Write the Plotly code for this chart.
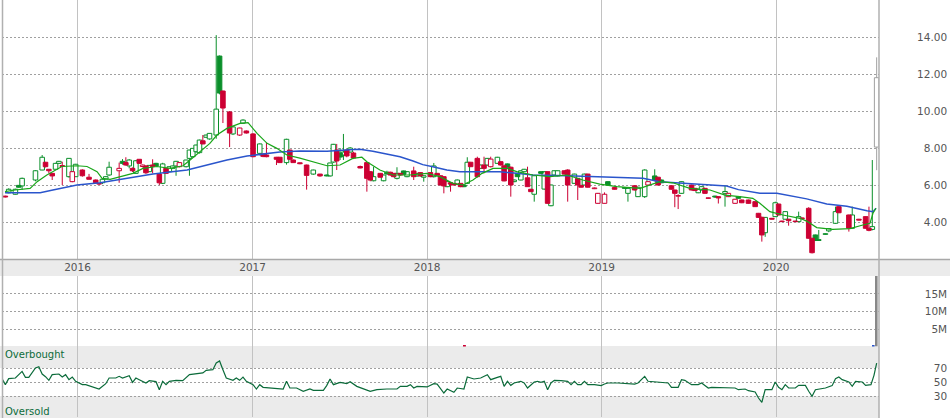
import numpy as np
import pandas as pd
import plotly.graph_objects as go

# ---------------- data ----------------
START = "2015-07-27"          # week 0
END = "2020-08-03"

candle_week = [1, 2, 4, 5, 6, 10, 12, 13, 14, 15, 16, 17, 18, 20, 21, 22, 24, 26, 28, 29,
               30, 31, 32, 35, 36, 37, 38, 39, 40, 41, 42, 43, 44, 45, 46, 47, 48, 49, 50, 51,
               52, 53, 55, 56, 57, 58, 59, 60, 61, 62, 64, 65, 66, 68, 69, 71, 72, 73, 75, 77,
               78, 79, 82, 83, 85, 86, 87, 89, 91, 93, 95, 97, 98, 99, 100, 101, 102, 103, 104, 105,
               107, 109, 110, 111, 113, 114, 115, 116, 117, 118, 119, 120, 121, 123, 124, 125, 126, 128, 129, 130,
               131, 132, 133, 134, 135, 136, 137, 138, 139, 140, 142, 143, 144, 145, 146, 148, 149, 150, 151, 152,
               153, 154, 155, 156, 157, 158, 159, 161, 162, 163, 164, 165, 166, 168, 169, 171, 172, 173, 174, 175,
               177, 178, 180, 181, 183, 186, 187, 189, 190, 192, 193, 195, 196, 197, 200, 201, 202, 203, 206, 207,
               208, 209, 210, 211, 213, 214, 216, 217, 219, 220, 221, 223, 225, 226, 227, 228, 230, 231, 232, 233,
               234, 235, 237, 238, 239, 241, 242, 243, 244, 246, 247, 249, 250, 253, 254, 256, 258, 259, 260]
candle_open = [5.40, 5.58, 5.50, 5.98, 5.95, 6.27, 6.81, 7.23, 6.85, 6.63, 6.85, 7.17, 7.05, 6.45, 6.18, 6.45, 6.81, 6.42, 6.27, 6.08,
               6.12, 6.32, 6.54, 6.77, 7.28, 7.21, 7.03, 6.90, 6.63, 7.39, 7.00, 7.03, 6.72, 7.08, 7.17, 6.59, 6.09, 6.90, 6.72, 6.90,
               7.03, 6.99, 6.99, 7.44, 7.53, 7.80, 7.75, 8.39, 8.58, 8.49, 8.70, 12.97, 11.08, 9.95, 8.76, 8.70, 9.34, 8.92, 8.76, 7.71,
               7.68, 7.62, 7.50, 7.50, 7.21, 7.89, 7.35, 7.20, 7.08, 6.59, 6.59, 6.54, 6.49, 7.24, 7.89, 7.73, 7.62, 7.89, 7.78, 7.73,
               7.00, 7.21, 6.72, 6.23, 6.63, 6.23, 6.69, 6.69, 6.63, 6.36, 6.63, 6.76, 6.45, 6.76, 6.49, 6.67, 6.42, 6.67, 6.45, 6.63,
               6.50, 6.45, 5.91, 6.12, 6.09, 6.05, 6.09, 6.00, 6.09, 7.23, 7.44, 6.90, 7.08, 7.08, 6.99, 7.17, 7.26, 7.04, 7.14, 6.96,
               6.18, 6.63, 6.27, 6.72, 6.39, 5.77, 5.50, 6.72, 5.78, 6.72, 4.88, 6.54, 6.49, 6.77, 6.81, 6.09, 6.36, 5.98, 6.00, 6.59,
               5.80, 5.01, 5.01, 6.18, 5.86, 5.86, 5.55, 5.96, 5.37, 5.37, 6.00, 6.49, 6.42, 6.27, 5.96, 5.73, 5.42, 5.55, 6.00, 5.82,
               5.58, 5.73, 5.82, 5.30, 5.40, 5.37, 5.55, 5.37, 5.01, 5.37, 5.19, 5.19, 5.10, 4.47, 4.25, 3.42, 4.20, 4.29, 4.97, 4.05,
               4.15, 4.15, 4.05, 4.02, 4.22, 4.74, 3.12, 3.30, 3.00, 3.33, 3.52, 3.93, 4.83, 4.38, 3.66, 4.15, 4.29, 3.66, 3.60]
candle_high = [5.42, 5.82, 5.80, 6.00, 6.40, 6.80, 7.62, 7.25, 6.85, 6.65, 7.20, 7.30, 7.26, 7.45, 6.75, 7.14, 6.85, 6.60, 6.30, 6.10,
               6.35, 6.48, 7.26, 7.21, 7.40, 7.50, 7.40, 6.95, 7.35, 7.40, 7.10, 7.05, 7.08, 7.39, 7.20, 6.60, 7.20, 6.92, 7.00, 7.05,
               7.30, 7.22, 7.36, 7.90, 7.98, 8.18, 8.45, 8.70, 8.72, 8.80, 14.10, 13.00, 11.10, 10.00, 9.20, 9.10, 9.55, 8.95, 8.80, 8.25,
               7.70, 8.29, 7.52, 7.52, 8.50, 7.90, 7.38, 7.22, 7.10, 6.83, 6.60, 6.56, 7.20, 8.22, 8.22, 8.00, 8.76, 7.92, 8.05, 7.80,
               7.05, 7.22, 6.75, 6.99, 6.65, 6.56, 6.77, 6.72, 6.65, 6.96, 6.65, 6.78, 6.75, 6.99, 6.65, 6.70, 6.52, 6.70, 7.19, 6.65,
               6.52, 6.47, 6.20, 6.15, 6.10, 6.30, 6.10, 6.02, 7.50, 7.25, 7.53, 7.10, 7.53, 7.46, 7.53, 7.52, 7.30, 7.06, 7.16, 7.00,
               6.30, 6.65, 6.79, 6.87, 6.99, 5.79, 6.50, 6.74, 6.74, 6.74, 6.02, 6.79, 6.79, 6.80, 6.85, 6.61, 6.38, 6.00, 6.61, 6.61,
               5.86, 5.57, 5.60, 6.20, 5.88, 5.88, 5.85, 5.98, 5.90, 6.85, 6.20, 6.85, 6.44, 6.29, 5.98, 5.75, 5.50, 6.20, 6.02, 5.84,
               5.79, 5.93, 5.84, 5.32, 5.42, 5.40, 6.00, 5.57, 5.25, 5.39, 5.21, 5.21, 5.12, 4.49, 4.30, 4.27, 4.22, 5.10, 4.99, 4.07,
               4.58, 4.17, 4.07, 4.56, 4.24, 4.80, 3.14, 3.32, 3.57, 3.39, 3.66, 4.83, 4.85, 4.40, 4.83, 4.17, 4.31, 4.83, 7.35]
candle_low = [5.33, 5.55, 5.48, 5.85, 5.73, 6.20, 6.80, 6.95, 6.63, 6.27, 6.85, 7.15, 6.00, 6.40, 6.15, 6.45, 6.45, 6.30, 6.10, 6.00,
              6.05, 6.30, 6.50, 6.12, 7.10, 7.05, 6.90, 6.70, 6.60, 7.15, 6.95, 6.60, 6.70, 6.63, 7.00, 6.00, 6.05, 6.60, 6.70, 6.88,
              6.50, 6.95, 6.95, 6.50, 7.50, 7.75, 7.70, 8.20, 8.55, 8.45, 8.50, 10.90, 9.35, 8.05, 8.70, 8.65, 9.30, 8.78, 7.50, 7.60,
              7.50, 7.50, 7.08, 7.20, 7.10, 7.35, 7.20, 7.12, 5.75, 6.55, 6.45, 6.47, 6.45, 7.20, 6.81, 7.35, 7.35, 7.50, 7.75, 7.40,
              6.90, 5.64, 6.20, 6.20, 6.40, 6.20, 6.55, 6.50, 6.42, 6.30, 6.50, 6.55, 6.42, 6.27, 6.45, 6.45, 6.18, 6.42, 6.40, 6.50,
              5.98, 5.55, 5.88, 5.64, 5.98, 6.02, 5.88, 5.88, 6.05, 6.97, 6.40, 6.88, 6.63, 7.05, 6.95, 7.15, 7.05, 6.20, 6.94, 5.37,
              6.15, 6.43, 6.25, 6.70, 5.90, 5.62, 5.10, 6.60, 5.75, 5.00, 4.85, 6.52, 6.47, 6.57, 5.10, 6.07, 5.19, 5.86, 5.98, 5.86,
              5.78, 4.99, 5.00, 5.98, 5.75, 5.80, 5.10, 5.71, 5.35, 5.30, 5.98, 6.20, 5.98, 6.10, 5.75, 4.80, 4.70, 5.53, 5.71, 5.68,
              5.56, 5.71, 5.53, 5.26, 5.30, 5.00, 4.83, 5.35, 4.99, 5.26, 5.02, 4.99, 4.81, 4.23, 2.94, 3.20, 4.13, 4.27, 4.36, 4.00,
              4.13, 3.80, 4.00, 4.00, 4.16, 3.10, 2.30, 2.97, 2.98, 3.31, 3.45, 3.90, 4.48, 3.48, 3.64, 4.08, 3.64, 3.50, 3.55]
candle_close = [5.35, 5.77, 5.77, 5.88, 6.36, 6.77, 7.50, 6.99, 6.77, 6.49, 7.17, 7.28, 7.00, 7.44, 6.72, 7.12, 6.50, 6.31, 6.12, 6.05,
                6.31, 6.45, 6.96, 6.90, 7.17, 7.08, 7.35, 6.77, 7.31, 7.17, 7.08, 6.66, 7.06, 7.00, 7.03, 6.12, 7.14, 6.63, 6.99, 7.03,
                7.28, 7.21, 7.35, 7.89, 7.98, 8.16, 8.43, 8.22, 8.70, 8.79, 10.10, 10.97, 10.16, 8.81, 9.14, 9.08, 9.51, 8.81, 7.53, 8.22,
                7.55, 7.53, 7.39, 7.21, 8.47, 7.39, 7.21, 7.15, 6.52, 6.81, 6.49, 6.49, 7.19, 8.20, 7.30, 7.51, 7.78, 7.57, 8.00, 7.46,
                6.92, 6.36, 6.27, 6.45, 6.42, 6.54, 6.60, 6.54, 6.45, 6.63, 6.54, 6.58, 6.72, 6.45, 6.63, 6.49, 6.50, 6.45, 7.03, 6.54,
                6.00, 5.95, 6.18, 6.05, 6.00, 6.27, 5.91, 5.91, 7.23, 6.99, 6.45, 7.08, 6.90, 7.44, 7.40, 7.50, 7.08, 6.22, 6.96, 6.00,
                6.27, 6.45, 6.77, 6.85, 5.91, 5.64, 6.50, 6.63, 6.72, 5.01, 6.00, 6.77, 6.77, 6.59, 6.00, 6.59, 6.00, 5.88, 6.59, 5.88,
                5.84, 5.55, 5.50, 6.00, 5.77, 5.82, 5.82, 5.73, 5.88, 6.81, 6.18, 6.27, 6.00, 6.12, 5.77, 5.55, 5.40, 6.18, 5.73, 5.70,
                5.77, 5.91, 5.55, 5.28, 5.35, 5.30, 5.65, 5.55, 5.23, 5.28, 5.04, 5.01, 4.83, 4.25, 3.30, 4.25, 4.15, 5.04, 4.38, 4.02,
                4.56, 4.07, 4.02, 4.29, 4.18, 3.12, 2.34, 3.00, 3.05, 3.37, 3.64, 4.56, 4.50, 3.66, 4.38, 4.10, 3.66, 3.55, 3.75]

# latest (unfinished) bar, drawn in grey
last_week = [261.3]
last_open = [8.05]
last_high = [12.90]
last_low = [6.80]
last_close = [11.80]

ma_long_week = [0.9, 11.4, 15.2, 22.4, 29.3, 37.3, 45.1, 55.3, 61.2, 67.2, 73.2, 79.2, 83.0, 89.0, 97.1,
                103.9, 106.9, 110.8, 115.0, 118.9, 122.8, 125.7, 128.7, 132.9, 136.8, 140.7, 144.9, 148.7,
                153.8, 158.6, 168.8, 178.6, 184.6, 191.5, 196.5, 208.5, 216.5, 220.0, 226.4, 231.5, 240.4,
                246.4, 252.4, 258.4, 260.2, 261.1]
ma_long = [5.58, 5.58, 5.73, 6.00, 6.12, 6.36, 6.59, 6.81, 7.08, 7.35, 7.57, 7.68, 7.78, 7.84, 7.82,
           7.90, 7.93, 7.82, 7.66, 7.53, 7.30, 7.10, 6.99, 6.81, 6.72, 6.72, 6.76, 6.72,
           6.63, 6.54, 6.50, 6.45, 6.39, 6.36, 6.18, 6.05, 5.95, 5.75, 5.56, 5.55, 5.25,
           4.97, 4.85, 4.61, 4.56, 4.74]

ma_short_week = [0.9, 3.9, 8.4, 10.5, 13.4, 17.9, 22.4, 25.4, 28.4, 29.9, 32.3, 35.2, 39.1, 42.1, 46.3,
                 50.2, 54.1, 56.2, 59.1, 62.1, 64.2, 67.2, 71.1, 73.5, 76.2, 79.2, 82.1, 85.1, 89.0,
                 94.1, 97.1, 101.0, 104.8, 107.5, 109.0, 112.9, 116.8, 121.9, 126.9, 130.8, 134.7,
                 137.7, 140.7, 143.4, 146.7, 150.8, 153.8, 158.6, 163.7, 168.8, 173.5, 178.6, 183.7,
                 190.6, 196.5, 200.4, 205.5, 211.5, 216.0, 220.4, 224.3, 226.4, 229.4, 233.3, 238.4,
                 240.4, 243.4, 248.2, 253.3, 257.2, 259.3, 260.2, 261.1]
ma_short = [5.64, 5.73, 5.82, 6.18, 6.54, 7.00, 7.04, 7.00, 6.72, 6.36, 6.31, 6.45, 6.63, 6.90, 7.00,
            6.90, 7.04, 7.35, 7.80, 8.25, 8.70, 9.06, 9.33, 9.37, 8.79, 8.25, 7.98, 7.62, 7.45,
            7.17, 7.04, 7.08, 7.44, 7.50, 7.26, 6.81, 6.54, 6.54, 6.63, 6.45, 6.09,
            6.00, 6.27, 6.63, 6.90, 6.90, 6.72, 6.54, 6.45, 6.54, 6.27, 6.05, 5.91,
            5.82, 6.18, 6.12, 5.82, 5.73, 5.45, 5.37, 5.28, 5.01, 4.56, 4.38, 4.20,
            4.05, 3.70, 3.60, 3.64, 3.84, 3.93, 4.47, 4.74]

volume_week = [138.3, 260.4, 261.3]
volume = [250000, 300000, 30000000]
volume_kind = ["down", "up", "last"]

rsi_week = [0, 1, 2, 3, 4, 6, 7, 8, 9, 10, 11, 12, 13, 14, 15, 17, 18, 19, 20, 21, 22, 24, 25, 27, 29,
            31, 32, 34, 35, 36, 38, 39, 40, 41, 43, 44, 46, 47, 48, 49, 50, 52, 54, 56, 58, 60, 61, 63,
            64, 65, 66, 67, 69, 70, 71, 72, 73, 75, 76, 77, 78, 81, 84, 85, 86, 88, 90, 92, 93, 96, 97,
            98, 99, 101, 103, 104, 106, 110, 112, 115, 118, 119, 121, 122, 123, 124, 127, 129, 130, 132,
            133, 135, 136, 138, 139, 141, 143, 145, 146, 148, 149, 150, 151, 152, 153, 155, 156, 157,
            159, 160, 161, 162, 163, 164, 165, 167, 169, 170, 171, 172, 173, 174, 175, 177, 179, 180,
            181, 184, 187, 189, 190, 192, 193, 195, 199, 200, 202, 203, 204, 206, 208, 209, 211, 212,
            215, 217, 219, 220, 221, 222, 223, 225, 226, 227, 228, 230, 231, 232, 233, 234, 235, 237,
            238, 240, 241, 242, 243, 246, 248, 249, 250, 251, 253, 254, 255, 257, 258, 259.6, 260.5, 261.3]
rsi = [54.8, 46.2, 54.8, 55.7, 55.7, 65.2, 56.7, 56.7, 62.9, 70.0, 71.9, 61.4, 57.6, 52.4, 60.5, 61.4, 57.1, 60.5, 53.3, 57.1, 51.0, 46.2, 46.2, 42.9, 40.0,
       47.6, 55.7, 55.7, 58.1, 55.7, 59.0, 49.5, 55.7, 53.3, 48.6, 51.9, 50.5, 39.0, 51.0, 46.2, 51.0, 52.4, 51.9, 60.5, 61.9, 62.9, 66.7, 67.6,
       77.1, 80.0, 67.6, 55.7, 52.4, 55.7, 52.4, 57.1, 51.0, 46.2, 40.0, 46.2, 42.4, 41.4, 40.0, 51.0, 41.4, 41.4, 36.7, 40.0, 38.1, 38.1, 44.8,
       54.3, 46.2, 49.5, 47.6, 50.5, 43.8, 36.7, 39.0, 40.0, 40.0, 43.8, 43.8, 46.2, 41.4, 43.8, 42.9, 47.6, 47.1, 34.3,
       40.0, 35.2, 41.4, 40.0, 57.1, 54.3, 55.7, 60.5, 53.3, 56.7, 58.1, 43.8, 51.0, 45.2, 48.6, 51.0, 48.6, 41.4,
       50.0, 51.0, 49.5, 51.0, 39.0, 48.6, 52.4, 51.9, 51.0, 46.2, 51.0, 46.2, 46.2, 51.0, 46.2, 46.2, 44.8, 47.1,
       48.6, 48.6, 47.1, 47.1, 48.6, 58.1, 51.0, 50.0, 48.6, 42.4, 42.4, 53.3, 52.4, 46.2, 46.2, 48.6, 41.4, 42.4,
       42.4, 42.4, 41.4, 39.0, 39.0, 40.0, 37.6, 35.7, 27.1, 21.0, 39.0, 39.0, 50.0, 42.4, 39.0, 46.2, 41.4, 41.4,
       45.2, 45.2, 36.7, 29.5, 39.0, 41.4, 44.8, 54.8, 57.1, 53.3, 50.0, 43.8, 51.0, 50.0, 45.2, 46.2, 59.5, 77.1]

year_ticks = ["2016-01-01", "2017-01-01", "2018-01-01", "2019-01-01", "2020-01-01"]
year_labels = ["2016", "2017", "2018", "2019", "2020"]
price_ticks = [4, 6, 8, 10, 12, 14]
price_labels = ["4.00", "6.00", "8.00", "10.00", "12.00", "14.00"]
volume_ticks = [5e6, 10e6, 15e6]
volume_labels = ["5M", "10M", "15M"]
rsi_ticks = [30, 50, 70]
rsi_labels = ["30", "50", "70"]

# ---------------- styling / geometry ----------------
W, H = 950, 418
def py(px):                    # pixel row -> paper fraction
    return 1 - px / H
def px_x(px):
    return px / W

GREEN = "#0a8f2a"
RED = "#cc0033"
GREY = "#a0a0a0"
MA_GREEN = "#19a619"
MA_BLUE = "#2a55cc"
RSI_COL = "#0b6b3a"
LABEL = "#555555"
FONT = "DejaVu Sans"

start = pd.Timestamp(START)
def wk(w):
    return start + pd.to_timedelta(np.asarray(w, dtype=float) * 7, unit="D")

DAY_MS = 86400000
BODY_W = 9.5 * DAY_MS

fig = go.Figure()

o = np.array(candle_open); h = np.array(candle_high)
l = np.array(candle_low); c = np.array(candle_close)
xs = wk(candle_week)
prev = np.r_[o[0], c[:-1]]
is_up = c >= prev
hollow = c > o
lo = np.minimum(o, c); hi = np.maximum(o, c)
ht = np.maximum(hi - lo, 0.025)

def add_bodies(mask, col, fill):
    if mask.sum() == 0:
        return
    fig.add_trace(go.Bar(x=xs[mask], y=ht[mask], base=lo[mask], width=BODY_W,
                         marker=dict(color=fill, line=dict(color=col, width=1)),
                         xaxis="x", yaxis="y", showlegend=False, hoverinfo="skip"))

def add_wicks(xv, hv, lov, hiv, lv, col):
    wx, wy = [], []
    for xi, a, b, cc, d in zip(xv, hv, hiv, lov, lv):
        if a > b:
            wx += [xi, xi, None]; wy += [a, b, None]
        if d < cc:
            wx += [xi, xi, None]; wy += [cc, d, None]
    fig.add_trace(go.Scatter(x=wx, y=wy, mode="lines", line=dict(color=col, width=1),
                             xaxis="x", yaxis="y", showlegend=False, hoverinfo="skip"))

add_bodies(is_up & hollow, GREEN, "white")
add_bodies(is_up & ~hollow, GREEN, GREEN)
add_bodies(~is_up & hollow, RED, "white")
add_bodies(~is_up & ~hollow, RED, RED)

# last grey candle
lo_l = np.minimum(last_open, last_close); hi_l = np.maximum(last_open, last_close)
xl = wk(last_week)
fig.add_trace(go.Bar(x=xl, y=hi_l - lo_l, base=lo_l, width=BODY_W,
                     marker=dict(color="white", line=dict(color=GREY, width=1)),
                     xaxis="x", yaxis="y", showlegend=False, hoverinfo="skip"))

add_wicks(list(xs[is_up]), h[is_up], lo[is_up], hi[is_up], l[is_up], GREEN)
add_wicks(list(xs[~is_up]), h[~is_up], lo[~is_up], hi[~is_up], l[~is_up], RED)
add_wicks(list(xl), last_high, lo_l, hi_l, last_low, GREY)

# moving averages
fig.add_trace(go.Scatter(x=wk(ma_long_week), y=ma_long, mode="lines",
                         line=dict(color=MA_BLUE, width=1.5),
                         xaxis="x", yaxis="y", showlegend=False, hoverinfo="skip"))
fig.add_trace(go.Scatter(x=wk(ma_short_week), y=ma_short, mode="lines",
                         line=dict(color=MA_GREEN, width=1.2),
                         xaxis="x", yaxis="y", showlegend=False, hoverinfo="skip"))

# volume
vcol = {"down": RED, "up": MA_BLUE, "last": "#888888"}
fig.add_trace(go.Bar(x=wk(volume_week), y=volume, width=4 * DAY_MS,
                     marker=dict(color=[vcol[k] for k in volume_kind], line=dict(width=0)),
                     xaxis="x2", yaxis="y2", showlegend=False, hoverinfo="skip"))

# RSI
fig.add_trace(go.Scatter(x=wk(rsi_week), y=rsi, mode="lines",
                         line=dict(color=RSI_COL, width=1.2),
                         xaxis="x3", yaxis="y3", showlegend=False, hoverinfo="skip"))

# ---------------- layout ----------------
xdom = [px_x(2), px_x(879)]
price_dom = [py(259), 1.0]
vol_dom = [py(346.5), py(276)]
rsi_dom = [py(417), py(347)]

xcommon = dict(type="date", range=[START, END], domain=xdom, tickvals=year_ticks,
               ticktext=year_labels, showgrid=True, gridcolor="#c2c2c2", gridwidth=1.3,
               zeroline=False, showline=False, ticks="", fixedrange=True)
tickfont = dict(family=FONT, size=10.5, color=LABEL)
ycommon = dict(showgrid=True, gridcolor="#a0a0a0", griddash="2px,2px", gridwidth=1,
               zeroline=False, showline=False, ticks="", anchor="free", position=0.997,
               side="left", tickfont=tickfont, fixedrange=True)

def rsi_paper(v):
    return rsi_dom[0] + v / 100 * (rsi_dom[1] - rsi_dom[0])

shapes = [
    # date band
    dict(type="rect", xref="paper", yref="paper", x0=0, x1=1, y0=py(276), y1=py(259),
         fillcolor="#ebebeb", line=dict(width=0), layer="below"),
    # RSI zones
    dict(type="rect", xref="paper", yref="paper", x0=0, x1=px_x(879), y0=rsi_paper(70), y1=py(346),
         fillcolor="#ebebeb", line=dict(width=0), layer="below"),
    dict(type="rect", xref="paper", yref="paper", x0=0, x1=px_x(879), y0=0, y1=rsi_paper(30),
         fillcolor="#ebebeb", line=dict(width=0), layer="below"),
    # borders
    dict(type="line", xref="paper", yref="paper", x0=0, x1=1, y0=py(259.5), y1=py(259.5),
         line=dict(color="#a8a8a8", width=1.5)),
    dict(type="line", xref="paper", yref="paper", x0=px_x(2.5), x1=px_x(2.5), y0=0, y1=1,
         line=dict(color="#b0b0b0", width=1.5)),
    dict(type="line", xref="paper", yref="paper", x0=px_x(879), x1=px_x(879), y0=0, y1=1,
         line=dict(color="#b0b0b0", width=1.5)),
]

annotations = [
    dict(text="Overbought", xref="paper", yref="paper", x=px_x(3), y=py(354.5),
         xanchor="left", yanchor="middle", showarrow=False,
         font=dict(family=FONT, size=10, color=RSI_COL)),
    dict(text="Oversold", xref="paper", yref="paper", x=px_x(3), y=py(411.5),
         xanchor="left", yanchor="middle", showarrow=False,
         font=dict(family=FONT, size=10, color=RSI_COL)),
]

fig.update_layout(
    width=W, height=H, margin=dict(l=0, r=0, t=0, b=0),
    paper_bgcolor="white", plot_bgcolor="rgba(0,0,0,0)",
    barmode="overlay", showlegend=False,
    xaxis=dict(xcommon, anchor="y", showticklabels=True, tickfont=tickfont),
    xaxis2=dict(xcommon, anchor="y2", matches="x", showticklabels=False),
    xaxis3=dict(xcommon, anchor="y3", matches="x", showticklabels=False),
    yaxis=dict(ycommon, domain=price_dom, range=[2, 16], tickvals=price_ticks, ticktext=price_labels),
    yaxis2=dict(ycommon, domain=vol_dom, range=[0, 20.14e6], tickvals=volume_ticks, ticktext=volume_labels),
    yaxis3=dict(ycommon, domain=rsi_dom, range=[0, 100], tickvals=rsi_ticks, ticktext=rsi_labels),
    shapes=shapes, annotations=annotations,
)

fig.write_html("out.html", config={"displayModeBar": False},
               post_script="document.body.style.margin='0';document.body.style.padding='0';")
